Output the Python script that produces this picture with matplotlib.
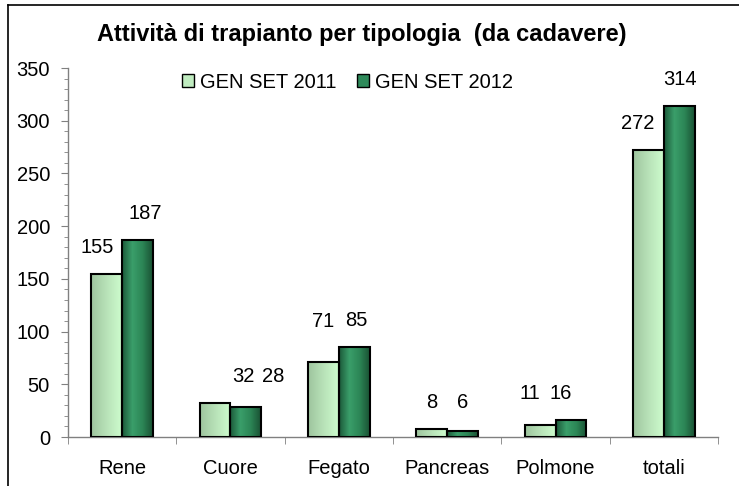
import numpy as np
import matplotlib.pyplot as plt
from matplotlib.colors import LinearSegmentedColormap
from matplotlib.lines import Line2D
from matplotlib.patches import Patch
from matplotlib.ticker import MultipleLocator

plt.rcParams['font.family'] = ['Liberation Sans', 'DejaVu Sans']

categories = ['Rene', 'Cuore', 'Fegato', 'Pancreas', 'Polmone', 'totali']
val_2011 = [155, 32, 71, 8, 11, 272]
val_2012 = [187, 28, 85, 6, 16, 314]
series_names = ['GEN SET 2011', 'GEN SET 2012']

# nudges of the value labels (pixels), as placed in the original
dx_2011 = [-10, 28, 0, 0, -10, -11]
dx_2012 = [8, 27, 2, 0, -10, 1]
dy_2011 = [0, 0, 14, 0, 5, 0]
dy_2012 = [0, 4, 0, 2, 0, 0]

cmap_light = LinearSegmentedColormap.from_list('l', ['#9ec49e', '#b8e2b8', '#cdfccd'])
cmap_dark = LinearSegmentedColormap.from_list('d', ['#1c5a3a', '#3a9e6a', '#2c8656', '#1a5234'])

fig = plt.figure(figsize=(7.39, 4.86), dpi=100)
ax = fig.add_axes([0.092, 0.1008, 0.8796, 0.7592])

x = np.arange(len(categories))
w = 0.285
grad = np.linspace(0, 1, 64).reshape(1, -1)
fs = 14.5

def draw_bars(xs, vals, cmap):
    bars = ax.bar(xs, vals, width=w, facecolor='none', edgecolor='black',
                  linewidth=1.5, zorder=3)
    for b in bars:
        x0, y0 = b.get_x(), b.get_y()
        im = ax.imshow(grad, cmap=cmap, aspect='auto', zorder=2,
                       extent=[x0, x0 + b.get_width(), y0, y0 + b.get_height()])
        im.set_clip_path(b)
    return bars

draw_bars(x - w / 2, val_2011, cmap_light)
draw_bars(x + w / 2, val_2012, cmap_dark)

for i, xi in enumerate(x):
    a, b = val_2011[i], val_2012[i]
    ax.annotate(str(a), (xi - w / 2, a), xytext=(dx_2011[i], 17 + dy_2011[i]),
                textcoords='offset pixels', ha='center', va='bottom', fontsize=fs)
    ax.annotate(str(b), (xi + w / 2, b), xytext=(dx_2012[i], 17 + dy_2012[i]),
                textcoords='offset pixels', ha='center', va='bottom', fontsize=fs)

ax.set_xlim(-0.5, len(categories) - 0.5)
ax.set_ylim(0, 350)
ax.yaxis.set_major_locator(MultipleLocator(50))
ax.yaxis.set_minor_locator(MultipleLocator(10))
ax.set_xticks(x)
ax.set_xticklabels(categories, fontsize=fs)
ax.set_xticks(np.arange(len(categories) + 1) - 0.5, minor=True)
ax.tick_params(axis='x', which='major', length=0, pad=16)
ax.tick_params(axis='x', which='minor', length=5, color='#808080', direction='out')
ax.tick_params(axis='y', which='major', length=5, color='#808080', labelsize=fs, pad=8)
ax.tick_params(axis='y', which='minor', length=3, color='#808080')

for s in ['top', 'right']:
    ax.spines[s].set_visible(False)
for s in ['left', 'bottom']:
    ax.spines[s].set_color('#808080')
    ax.spines[s].set_linewidth(1)

handles = [Patch(facecolor='#c0ecc0', edgecolor='black', linewidth=1),
           Patch(facecolor='#2e8a5a', edgecolor='black', linewidth=1)]
ax.legend(handles, series_names, loc='center', bbox_to_anchor=(0.43, 0.962), ncol=2,
          frameon=False, fontsize=fs, handlelength=0.6, handleheight=0.6,
          handletextpad=0.3, columnspacing=1.0)

fig.text(0.489, 0.928, 'Attività di trapianto per tipologia  (da cadavere)',
         ha='center', va='center', fontsize=17, fontweight='bold')

fig.add_artist(Line2D([8 / 739, 8 / 739], [0, 1 - 5 / 486], color='black', linewidth=1.2))
fig.add_artist(Line2D([8 / 739, 1], [1 - 5 / 486, 1 - 5 / 486], color='black', linewidth=1.2))

fig.savefig('out.png', dpi=100)
